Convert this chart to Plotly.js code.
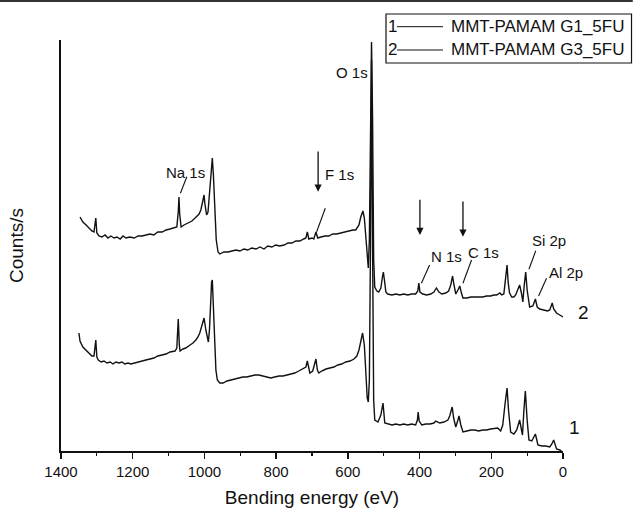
<!DOCTYPE html>
<html>
<head>
<meta charset="utf-8">
<script src="https://cdn.plot.ly/plotly-3.0.1.min.js"></script>
<style>html,body{margin:0;padding:0;background:#fff;}#chart{width:633px;height:511px;}</style>
</head>
<body>
<div id="chart"></div>
<script>
// ---- data ----
const seriesNames = ["MMT-PAMAM G1_5FU", "MMT-PAMAM G3_5FU"];
const seriesTags = ["1", "2"];

// Curve 1: MMT-PAMAM G1_5FU (binding energy eV, counts/s)
const beG1 = [1350,1347,1339,1330,1322,1314,1308,1303,1300,1296,1288,1280,1272,1263,1255,1247,1238,1230,1222,1213,1205,1196,1185,1174,1163,1152,1141,1130,1118,1107,1096,1088,1082,1077,1073,1070,1068,1060,1052,1040,1032,1024,1018,1013,1007,1001,996,989,986,983,980,978,976,972,968,964,957,948,937,926,915,904,893,882,870,859,848,837,826,815,804,792,781,770,759,748,737,725,717,713,710,706,698,689,685,681,673,661,650,639,628,617,606,594,583,575,569,564,559,554,550,546,543,540,537,534,531,528,525,516,508,502,497,489,477,466,455,444,433,422,411,406,404,401,394,383,371,360,355,349,344,332,321,316,309,305,299,293,290,285,279,268,257,246,235,224,213,202,190,182,174,168,162,156,152,146,137,129,121,116,113,109,105,100,95,87,82,77,73,70,59,48,37,31,26,22,18,9,4];
const cpsG1 = [11800,11000,10400,10100,9800,9500,9500,11100,9400,9100,8900,9000,8800,8900,8700,8900,8800,8900,8700,8800,8700,8800,8900,9000,9100,9200,9300,9500,9600,9700,9900,10000,10000,10300,13200,10600,10000,10200,10300,10600,10800,11100,11400,11800,12500,13300,12100,10900,12100,15100,16900,17100,15100,11100,8100,7100,6800,6800,7000,7100,7200,7300,7400,7400,7500,7600,7600,7500,7400,7300,7400,7500,7500,7600,7700,7800,8000,8200,8400,9000,8300,7800,8000,9200,8100,7800,8000,8200,8300,8400,8600,8700,8900,9000,9200,9500,10100,11100,11800,10600,7600,5300,4900,7100,20100,39100,20100,5100,3100,2900,3600,4800,2800,2700,2600,2700,2600,2700,2600,2700,2600,3100,3900,3000,2600,2700,2700,2800,3000,2900,2800,2900,3100,3500,4400,3300,2400,3100,3500,2600,1900,2000,2100,2100,2000,2100,2100,2200,2300,2300,2000,2600,4600,6300,4100,1900,1700,2100,3100,2100,1600,4100,6000,3100,1100,1000,1300,1700,1100,600,500,500,400,700,1100,500,200,100,0];

// Curve 2: MMT-PAMAM G3_5FU (binding energy eV, counts/s)
const beG3 = [1347,1339,1330,1322,1314,1308,1303,1300,1294,1286,1277,1269,1261,1252,1244,1235,1227,1219,1208,1196,1185,1174,1163,1152,1141,1130,1118,1107,1096,1085,1077,1073,1071,1069,1065,1057,1046,1035,1026,1021,1015,1010,1004,1001,999,994,990,986,982,978,975,971,967,962,957,946,934,923,912,901,890,879,868,856,845,834,823,812,801,790,778,767,756,745,734,723,717,713,709,700,695,689,684,675,664,653,642,631,620,608,597,586,578,569,564,558,554,550,546,543,540,537,534,531,528,525,519,514,508,504,501,498,494,489,477,466,455,444,433,422,411,405,402,399,391,380,369,360,353,346,338,327,319,313,308,304,299,293,288,284,279,268,257,246,235,224,213,202,193,185,176,171,165,161,156,153,149,143,137,132,126,121,116,112,108,104,100,96,93,84,77,72,65,54,43,37,30,26,18,9,0];
const cpsG3 = [23400,22900,22600,22300,22000,21900,23300,21800,21500,21400,21600,21300,21500,21300,21400,21200,21500,21300,21400,21300,21500,21500,21600,21700,21600,21900,21900,22100,22200,22300,22400,23900,25400,23700,22400,22600,22800,23000,23300,23500,23700,24100,25100,25600,24800,23600,23900,25600,28100,29300,27600,24100,21100,19900,19700,19900,19900,20000,20100,20000,20200,20100,20300,20200,20400,20200,20500,20400,20600,20500,20600,20800,20800,21000,21000,21200,21300,21900,21200,21300,21200,21900,21300,21400,21500,21500,21700,21700,21800,21900,22000,22100,22100,22600,23400,24000,23300,21100,18900,18300,21100,33100,40900,33100,19100,16400,16000,15900,16300,17300,17900,17100,15900,15700,15600,15700,15600,15700,15600,15700,15700,16000,16800,15900,15700,15600,15700,15900,16300,15900,15700,15800,16000,16600,17500,16600,15700,16100,16500,15900,15300,15300,15400,15400,15400,15400,15500,15500,15600,15600,15800,15600,15700,17100,18600,16900,15800,15400,15400,15600,16100,16600,15800,14900,16600,17900,16100,15100,14400,14500,15200,14400,14200,14100,14000,14100,14800,14200,13800,13600,13400];

// axis ticks
const xTickVals = [1400,1200,1000,800,600,400,200,0];
const xTickText = ["1400","1200","1000","800","600","400","200","0"];
const xTitle = "Bending energy (eV)";
const yTitle = "Counts/s";

// peak labels
const peakLabels = ["O 1s","Na 1s","F 1s","N 1s","C 1s","Si 2p","Al 2p"];

// ---- layout / decoration (positions and styles) ----
const FONT = "Liberation Sans, Arial, Helvetica, sans-serif";
const INK = "#111111";

// label positions: data refs for those inside the axes, paper refs beyond the axis end
const labelPos = [
  {x:589, y:37900, ref:"data"},    // O 1s
  {x:1054, y:27850, ref:"data"},   // Na 1s
  {x:624, y:27700, ref:"data"},    // F 1s
  {x:325, y:19430, ref:"data"},    // N 1s
  {x:221, y:19850, ref:"data"},    // C 1s
  {x:40, y:21100, ref:"data"},     // Si 2p
  {x:1.006, y:0.4343, ref:"paper"} // Al 2p
];
// pointer ticks (from -> to, data coords)
const pointers = [
  [1067,25770,1049,27430],
  [687,21930,663,24270],
  [395,16770,372,18600],
  [279,16770,255,19100],
  [95,18170,76,20030],
  [68,15500,46,17270]
];
// downward arrows: x, tail y, head y
const arrows = [
  [683,30100,25930],
  [399,25270,21600],
  [279,25100,21430]
];
// curve tags at the right end (paper coords)
const tagPos = [{x:1.0239, y:0.056}, {x:1.0418, y:0.337}];

const traces = [
  {x: beG1, y: cpsG1, name: seriesNames[0], type: "scatter", mode: "lines",
   line: {color: INK, width: 1.4}, hoverinfo: "skip", showlegend: false},
  {x: beG3, y: cpsG3, name: seriesNames[1], type: "scatter", mode: "lines",
   line: {color: INK, width: 1.4}, hoverinfo: "skip", showlegend: false}
];

const annotations = [];
peakLabels.forEach((t, i) => {
  const p = labelPos[i];
  const isPaper = p.ref === "paper";
  annotations.push({x: p.x, y: p.y, xref: isPaper ? "paper" : "x", yref: isPaper ? "paper" : "y",
    xanchor: "center", yanchor: "middle",
    text: t, showarrow: false, font: {family: FONT, size: 15, color: INK}});
});
arrows.forEach(a => {
  annotations.push({x: a[0], y: a[2], ax: a[0], ay: a[1], xref: "x", yref: "y",
    axref: "x", ayref: "y", text: "", showarrow: true, arrowhead: 2, arrowsize: 1.1,
    arrowwidth: 1.3, arrowcolor: INK});
});
seriesTags.forEach((t, i) => {
  annotations.push({x: tagPos[i].x, y: tagPos[i].y, xref: "paper", yref: "paper", text: t,
    xanchor: "center", yanchor: "middle", showarrow: false,
    font: {family: FONT, size: 19, color: INK}});
});

const shapes = [];
pointers.forEach(p => {
  shapes.push({type: "line", xref: "x", yref: "y", x0: p[0], y0: p[1], x1: p[2], y1: p[3],
    line: {color: INK, width: 1.1}});
});

// custom legend box (paper coordinates)
const lg = {x0: 0.6474, x1: 1.1365, y0: 0.944, y1: 1.0633, rows: [1.0324, 0.9757],
  tagX: 0.6604, lineX0: 0.6693, lineX1: 0.7610, textX: 0.7729};
shapes.push({type: "rect", xref: "paper", yref: "paper", x0: lg.x0, x1: lg.x1, y0: lg.y0, y1: lg.y1,
  line: {color: INK, width: 1.2}, fillcolor: "rgba(0,0,0,0)"});
seriesNames.forEach((nm, i) => {
  shapes.push({type: "line", xref: "paper", yref: "paper", x0: lg.lineX0, x1: lg.lineX1,
    y0: lg.rows[i], y1: lg.rows[i], line: {color: INK, width: 1}});
  annotations.push({x: lg.tagX, y: lg.rows[i], xref: "paper", yref: "paper", text: seriesTags[i],
    xanchor: "center", yanchor: "middle",
    showarrow: false, font: {family: FONT, size: 17, color: INK}});
  annotations.push({x: lg.textX, y: lg.rows[i], xref: "paper", yref: "paper", text: nm,
    xanchor: "left", yanchor: "middle", showarrow: false, font: {family: FONT, size: 17, color: INK}});
});
// scan border line at very top of the picture
shapes.push({type: "line", xref: "paper", yref: "paper", x0: -0.1215, x1: 1.139, y0: 1.0949, y1: 1.0949,
  line: {color: "#333", width: 2}});

const layout = {
  width: 633, height: 511,
  margin: {l: 61, r: 70, t: 40, b: 60},
  paper_bgcolor: "#fff", plot_bgcolor: "#fff",
  showlegend: false,
  font: {family: FONT, color: INK},
  xaxis: {
    range: [1400, 0], showgrid: false, zeroline: false,
    showline: true, linecolor: INK, linewidth: 1.6,
    ticks: "outside", ticklen: 6, tickwidth: 1.5, tickcolor: INK,
    tickvals: xTickVals, ticktext: xTickText,
    tickfont: {family: FONT, size: 15, color: INK},
    minor: {dtick: 100, ticks: "outside", ticklen: 3, tickwidth: 1.2, tickcolor: INK, showgrid: false},
    title: {text: xTitle, font: {family: FONT, size: 19, color: INK}, standoff: 12}
  },
  yaxis: {
    range: [0, 41100], showgrid: false, zeroline: false,
    showline: true, linecolor: INK, linewidth: 2,
    ticks: "", showticklabels: false,
    title: {text: yTitle, font: {family: FONT, size: 19, color: INK}, standoff: 30}
  },
  annotations: annotations,
  shapes: shapes
};

Plotly.newPlot("chart", traces, layout, {displayModeBar: false, staticPlot: true});
</script>
</body>
</html>
